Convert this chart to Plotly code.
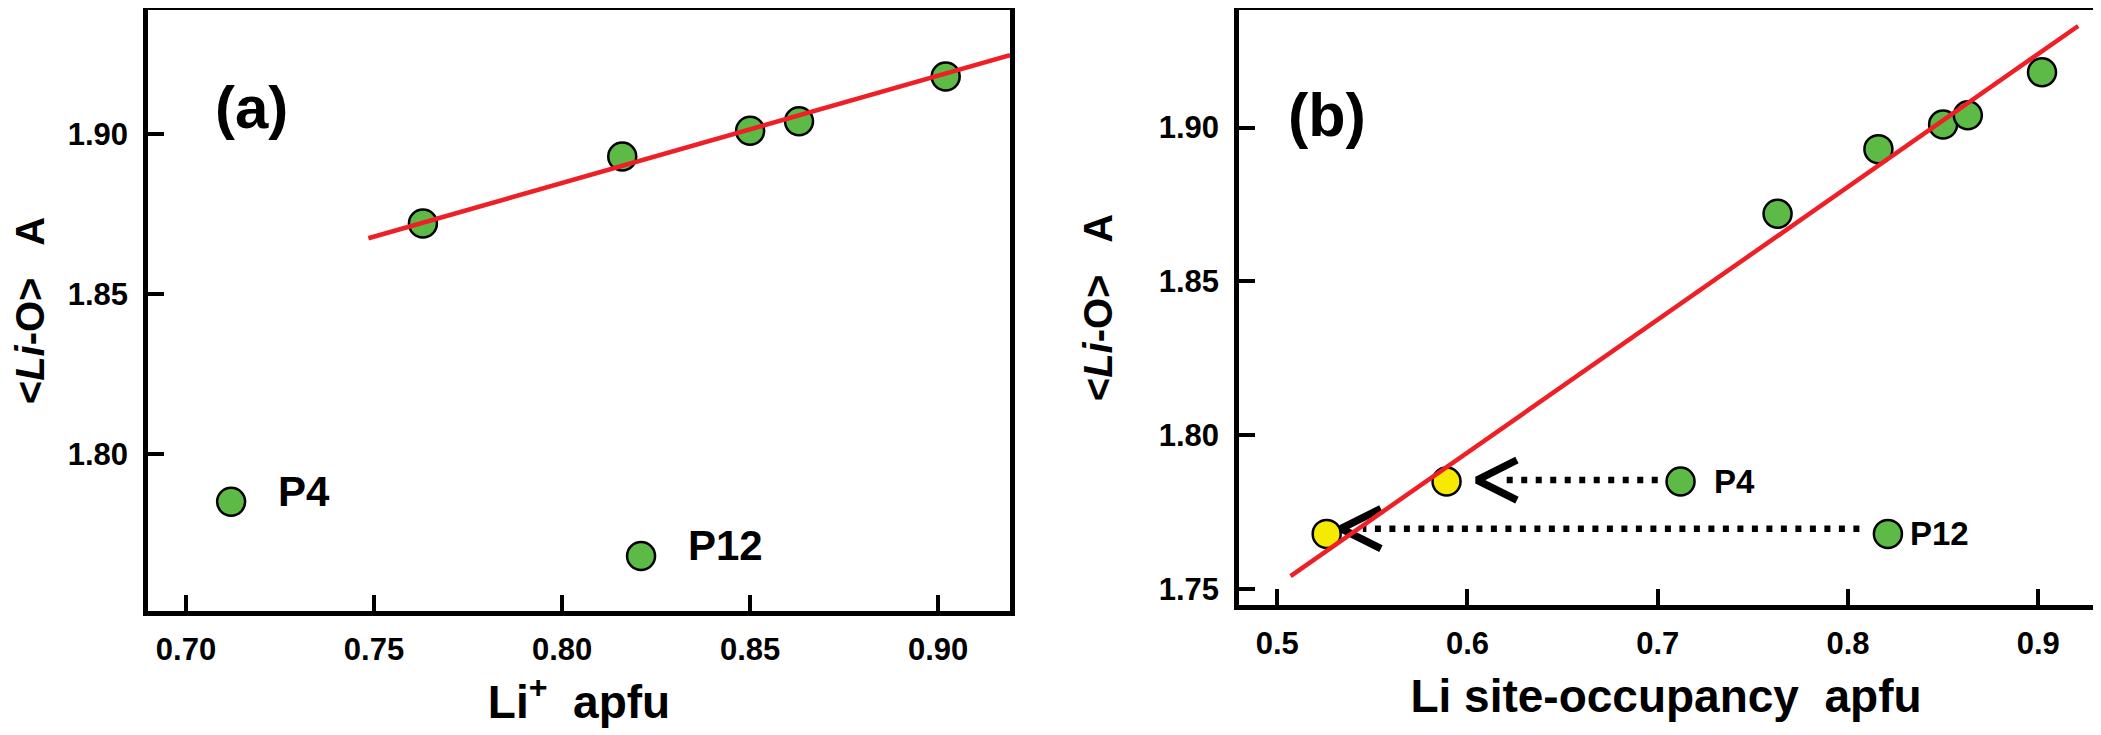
import plotly.graph_objects as go

# same samples in both panels: Li+ apfu (a) and Li site-occupancy (b)
li_apfu = [0.712, 0.763, 0.816, 0.821, 0.850, 0.863, 0.902]
li_o = [1.785, 1.872, 1.893, 1.768, 1.901, 1.904, 1.918]
point_labels = ["P4", "", "", "P12", "", "", ""]

# P4 and P12 moved to their corrected site occupancy (yellow)
occ_corr = [0.589, 0.526]
li_o_corr = [1.785, 1.768]

# regression lines
fit_a_x = [0.7485, 0.9191]
fit_a_y = [1.8674, 1.9247]
fit_b_x = [0.507, 0.921]
fit_b_y = [1.7543, 1.9330]

# dotted arrows P4 / P12 -> corrected
arrow_from = [0.700, 0.806]
arrow_to = [0.617, 0.545]
arrow_tip = [0.605, 0.5335]
arrow_y = [1.7855, 1.7697]

FONT = "Liberation Sans, Arial, sans-serif"
GREEN = "#5dba47"
YELLOW = "#f6ea00"
RED = "#ee1f26"

# page body has an 8px margin, so the figure is 8px smaller than the window
W, H = 2093, 727

fig = go.Figure()

marker_green = dict(size=28, color=GREEN, line=dict(color="black", width=2.5))

fig.add_trace(go.Scatter(x=li_apfu, y=li_o, mode="markers", marker=marker_green,
                         xaxis="x", yaxis="y"))
fig.add_trace(go.Scatter(x=fit_a_x, y=fit_a_y, mode="lines",
                         line=dict(color=RED, width=4.5), xaxis="x", yaxis="y"))

fig.add_trace(go.Scatter(x=li_apfu, y=li_o, mode="markers", marker=marker_green,
                         xaxis="x2", yaxis="y2"))
fig.add_trace(go.Scatter(x=occ_corr, y=li_o_corr, mode="markers",
                         marker=dict(size=28, color=YELLOW, line=dict(color="black", width=2.5)),
                         xaxis="x2", yaxis="y2"))

# dotted shafts
dx, dy = [], []
for x0, x1, y in zip(arrow_from, arrow_to, arrow_y):
    dx += [x0, x1, None]
    dy += [y, y, None]
fig.add_trace(go.Scatter(x=dx, y=dy, mode="lines",
                         line=dict(color="black", width=6.5, dash="6px,8.5px"),
                         xaxis="x2", yaxis="y2"))

# open chevron heads
arm_x, arm_y = 0.021, 0.0065
cx, cy = [], []
for xt, y in zip(arrow_tip, arrow_y):
    cx += [xt + arm_x, xt, xt + arm_x, None]
    cy += [y + arm_y, y, y - arm_y, None]
fig.add_trace(go.Scatter(x=cx, y=cy, mode="lines",
                         line=dict(color="black", width=7.5),
                         xaxis="x2", yaxis="y2"))

fig.add_trace(go.Scatter(x=fit_b_x, y=fit_b_y, mode="lines",
                         line=dict(color=RED, width=4.5), xaxis="x2", yaxis="y2"))

annotations = []
shift_a = {"P4": (45, 10), "P12": (45, 11)}
shift_b = {"P4": (31, 0), "P12": (20, 0)}
for x, y, lab in zip(li_apfu, li_o, point_labels):
    if not lab:
        continue
    annotations.append(dict(x=x, y=y, xref="x", yref="y", text=lab, showarrow=False,
                            xanchor="left", yanchor="middle",
                            xshift=shift_a[lab][0], yshift=shift_a[lab][1],
                            font=dict(family=FONT, size=42, color="black", weight="bold")))
    annotations.append(dict(x=x, y=y, xref="x2", yref="y2", text=lab, showarrow=False,
                            xanchor="left", yanchor="middle",
                            xshift=shift_b[lab][0], yshift=shift_b[lab][1],
                            font=dict(family=FONT, size=33, color="black", weight="bold")))

annotations.append(dict(x=0.7175, y=1.9084, xref="x", yref="y", text="(a)", showarrow=False,
                        font=dict(family=FONT, size=60, color="black", weight="bold")))
annotations.append(dict(x=0.5264, y=1.9040, xref="x2", yref="y2", text="(b)", showarrow=False,
                        font=dict(family=FONT, size=61, color="black", weight="bold")))


def axis_style(**kw):
    d = dict(showline=True, linewidth=4.5, linecolor="black", mirror=True,
             ticks="inside", ticklen=16, tickwidth=4, tickcolor="black",
             showgrid=False, zeroline=False, automargin=False,
             tickfont=dict(family=FONT, size=31, color="black", weight="bold"))
    d.update(kw)
    return d


ytitle = "&lt;<i>Li</i>-O&gt;&nbsp;&nbsp; A"
xfont = dict(family=FONT, size=46, color="black", weight="bold")
yfont = dict(family=FONT, size=40, color="black", weight="bold")

fig.update_layout(
    width=W, height=H,
    margin=dict(l=0, r=0, t=0, b=0),
    paper_bgcolor="white", plot_bgcolor="white",
    showlegend=False,
    annotations=annotations,
    xaxis=axis_style(domain=[0.06689, 0.47874], range=[0.6899, 0.9191],
                     tickvals=[0.70, 0.75, 0.80, 0.85, 0.90], tickformat=".2f",
                     ticklabelstandoff=7,
                     title=dict(text="Li<sup>+</sup>&nbsp;&nbsp;apfu", standoff=21, font=xfont),
                     anchor="y"),
    yaxis=axis_style(domain=[0.17056, 0.99725], range=[1.7508, 1.9388],
                     tickvals=[1.80, 1.85, 1.90], tickformat=".2f",
                     ticklabelstandoff=9,
                     title=dict(text=ytitle, standoff=35, font=yfont),
                     anchor="x"),
    xaxis2=axis_style(domain=[0.58815, 0.99618], range=[0.4799, 0.9288],
                      tickvals=[0.5, 0.6, 0.7, 0.8, 0.9], tickformat=".1f",
                      ticklabelstandoff=7,
                      title=dict(text="Li site-occupancy&nbsp; apfu", standoff=21, font=xfont),
                      anchor="y2"),
    yaxis2=axis_style(domain=[0.17882, 0.99725], range=[1.7449, 1.9382],
                      tickvals=[1.75, 1.80, 1.85, 1.90], tickformat=".2f",
                      ticklabelstandoff=9,
                      title=dict(text=ytitle, standoff=35, font=yfont),
                      anchor="x2"),
)

fig.write_html("out.html")
